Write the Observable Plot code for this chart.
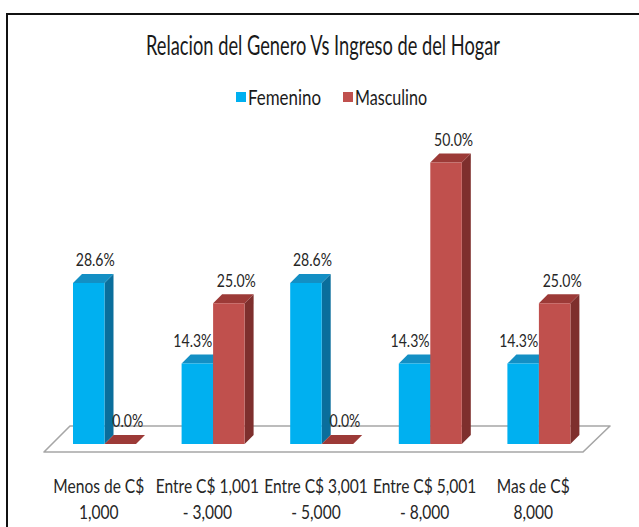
<!DOCTYPE html>
<html>
<head>
<meta charset="utf-8">
<script src="https://cdn.jsdelivr.net/npm/d3@7"></script>
<script src="https://cdn.jsdelivr.net/npm/@observablehq/plot@0.6"></script>
<style>
  html, body { margin: 0; padding: 0; background: #fff; }
  body { width: 639px; height: 527px; overflow: hidden; position: relative; font-family: Lato, "Open Sans", sans-serif; color: #1a1a1a; }
  #title { position: absolute; left: 146px; top: 30px; line-height: 30px; font-size: 27px; white-space: nowrap; }
  #legend { position: absolute; left: 236px; top: 85px; height: 24px; line-height: 24px; font-size: 21px; white-space: nowrap; display: flex; align-items: center; }
  .box { display: inline-block; white-space: nowrap; }
  .inner { display: inline-block; transform-origin: 0 50%; }
  .sw { display: inline-block; width: 10px; height: 10px; margin-right: 2px; }
  #chart { position: absolute; left: 0; top: 115px; }
  #frame { position: absolute; left: 6px; top: 13px; width: 700px; height: 600px; border-left: 2px solid #111; border-top: 2px solid #111; z-index: 10; pointer-events: none; }
</style>
</head>
<body>
<div id="title"></div>
<div id="legend"></div>
<div id="chart"></div>
<div id="frame"></div>
<script>
// ---- data ----
const titleText = "Relacion del Genero Vs Ingreso de del Hogar";
const categories = ["Menos de C$\n1,000", "Entre C$ 1,001\n- 3,000", "Entre C$ 3,001\n- 5,000", "Entre C$ 5,001\n- 8,000", "Mas de C$\n8,000"];
const series = ["Femenino", "Masculino"];
const femenino = [28.6, 14.3, 28.6, 14.3, 14.3];
const masculino = [0.0, 25.0, 0.0, 50.0, 25.0];

// ---- styles ----
const colors = {
  Femenino: {front: "#00B0F0", side: "#0A6E9C", top: "#138FC4"},
  Masculino: {front: "#C0504D", side: "#7E2F2D", top: "#9C3A37"}
};

// ---- title & legend (HTML) ----
function squeezed(parent, text, targetWidth) {
  const box = document.createElement("span");
  box.className = "box";
  box.style.width = targetWidth + "px";
  const inner = document.createElement("span");
  inner.className = "inner";
  inner.textContent = text;
  box.appendChild(inner);
  parent.appendChild(box);
  const w = inner.getBoundingClientRect().width;
  inner.style.transform = `scaleX(${targetWidth / w})`;
  return box;
}
squeezed(document.getElementById("title"), titleText, 354);
const legendEl = document.getElementById("legend");
const legendWidths = [73, 72];
series.forEach((s, k) => {
  const sw = document.createElement("span");
  sw.className = "sw";
  sw.style.background = colors[s].front;
  legendEl.appendChild(sw);
  const b = squeezed(legendEl, s, legendWidths[k]);
  if (k < series.length - 1) b.style.marginRight = "22px";
});

// ---- chart geometry ----
const W = 639, H = 527 - 115;
const mL = 44, mR = 52, mT = 47.5, mB = 83;
const yMax = 50;
const n = categories.length;
const pxX = (W - mL - mR) / n;   // px per x unit
const pxY = (H - mT - mB) / yMax; // px per percent
const depth = 9;
const ddx = depth / pxX, ddy = depth / pxY;
const barOff = 29 / pxX, barW = 31.5 / pxX;

const valuesBySeries = [femenino, masculino];
const bars = [];
categories.forEach((c, i) => {
  valuesBySeries.forEach((vals, s) => {
    const x0 = i + barOff + s * barW;
    bars.push({id: `${i}-${s}`, cat: c, i, s, series: series[s], v: vals[i], x0, x1: x0 + barW});
  });
});

const sideFaces = bars.flatMap(b => [
  {id: b.id, s: b.s, x: b.x1, y1: 0, y2: b.v},
  {id: b.id, s: b.s, x: b.x1 + ddx, y1: ddy, y2: b.v + ddy}
]);
const topFaces = bars.flatMap(b => [
  {id: b.id, s: b.s, y: b.v, x1: b.x0, x2: b.x1},
  {id: b.id, s: b.s, y: b.v + ddy, x1: b.x0 + ddx, x2: b.x1 + ddx}
]);

// floor parallelogram (front edge in front of bars, back edge behind)
const floorFront = -8 / pxY, floorBack = 18 / pxY;
const floorPts = [
  {y: floorFront, x1: 0, x2: (583 - mL) / pxX},
  {y: floorBack, x1: 26 / pxX, x2: (610 - mL) / pxX}
];

function labelX(b) {
  const c = (b.x0 + b.x1) / 2;
  let shift;
  if (b.s === 0) shift = femenino[b.i] < masculino[b.i] ? -5 : 6;
  else shift = 7;
  return c + shift / pxX;
}

const barMarks = [];
series.forEach((name, s) => {
  const col = colors[name];
  barMarks.push(
    Plot.area(sideFaces.filter(d => d.s === s), {x1: "x", y1: "y1", y2: "y2", z: "id", fill: col.side}),
    Plot.area(topFaces.filter(d => d.s === s), {y1: "y", x1: "x1", x2: "x2", z: "id", fill: col.top}),
    Plot.rect(bars.filter(d => d.s === s), {x1: "x0", x2: "x1", y1: 0, y2: "v", fill: col.front})
  );
});

const chart = Plot.plot({
  width: W,
  height: H,
  marginLeft: mL, marginRight: mR, marginTop: mT, marginBottom: mB,
  style: {background: "transparent", fontFamily: "Lato, 'Open Sans', sans-serif", overflow: "visible"},
  x: {domain: [0, n], axis: null},
  y: {domain: [0, yMax], axis: null},
  marks: [
    Plot.area(floorPts, {y1: "y", x1: "x1", x2: "x2", fill: "white", stroke: "#A6A6A6", strokeWidth: 1.6}),
    ...barMarks,
    Plot.text(bars, {x: labelX, y: "v", text: b => b.v.toFixed(1) + "%", dy: -23, fontSize: 18, fill: "#262626"}),
    Plot.text(categories, {x: (d, i) => i + 0.5, frameAnchor: "bottom", lineAnchor: "top", dy: 29, fontSize: 18.5, lineHeight: 1.45, fill: "#262626"})
  ]
});
document.getElementById("chart").appendChild(chart);

// condense SVG text (reference uses a narrow font)
function textWidth(el) {
  try { return el.getBBox().width; } catch (e) { return el.getComputedTextLength(); }
}
function condense(filter, sample, target) {
  const texts = Array.from(chart.querySelectorAll("text")).filter(filter);
  let w = null;
  texts.forEach(t => {
    const parts = t.querySelectorAll("tspan");
    if (parts.length) parts.forEach(p => { if (p.textContent.trim() === sample) w = textWidth(p); });
    else if (t.textContent.trim() === sample) w = textWidth(t);
  });
  if (!w) return;
  const k = target / w;
  texts.forEach(t => {
    const tr = t.getAttribute("transform") || "";
    t.setAttribute("transform", `${tr} scale(${k},1)`);
  });
}
condense(t => t.textContent.includes("%"), "28.6%", 39);
condense(t => !t.textContent.includes("%"), "Menos de C$", 91);
</script>
</body>
</html>
